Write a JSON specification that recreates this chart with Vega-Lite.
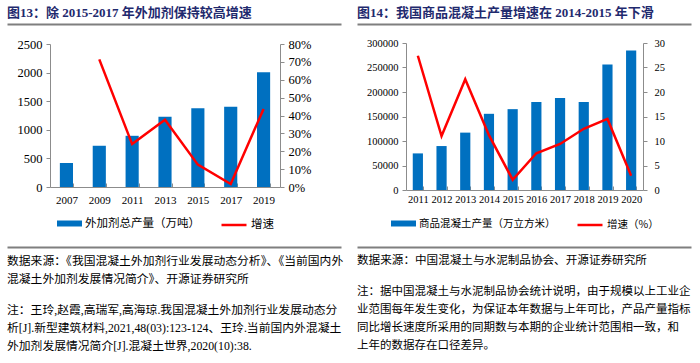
{
  "$schema": "https://vega.github.io/schema/vega-lite/v6.json",
  "background": "white",
  "padding": {"left": 7, "top": 0, "right": 0, "bottom": 0},
  "spacing": -27,
  "config": {
    "view": {"stroke": null},
    "legend": {"layout": {"bottom": {"anchor": "middle", "direction": "horizontal", "margin": 12}}}
  },
  "resolve": {"scale": {"fill": "independent", "stroke": "independent"}, "legend": {"fill": "independent", "stroke": "independent"}},
  "hconcat": [
    {
      "spacing": 12,
      "resolve": {"scale": {"fill": "independent", "stroke": "independent"}, "legend": {"fill": "independent", "stroke": "independent"}},
      "vconcat": [
        {
          "width": 291, "height": 26,
          "data": {"values": [{"t": "图13：除 2015-2017 年外加剂保持较高增速", "p": 0}]},
          "mark": {"type": "text", "align": "left", "baseline": "middle", "font": "Liberation Serif, Noto Sans CJK SC", "fontSize": 13, "fontWeight": "bold", "color": "#1F2A6E"},
          "encoding": {
            "x": {"field": "p", "type": "quantitative", "scale": {"domain": [0, 1], "range": [-43, 291]}, "axis": {"orient": "bottom", "labels": false, "ticks": false, "grid": false, "title": null, "domainColor": "#7F7F7F", "domainWidth": 2, "offset": -2}},
            "text": {"field": "t"}
          }
        },
        {
          "width": 230, "height": 143,
          "data": {"values": [
            {"year": "2007", "prod": 420},
            {"year": "2009", "prod": 721, "growth": 0.714},
            {"year": "2011", "prod": 895, "growth": 0.24},
            {"year": "2013", "prod": 1227, "growth": 0.376},
            {"year": "2015", "prod": 1378, "growth": 0.125},
            {"year": "2017", "prod": 1401, "growth": 0.017},
            {"year": "2019", "prod": 2006, "growth": 0.437}
          ]},
          "encoding": {
            "x": {"field": "year", "type": "ordinal", "scale": {"paddingInner": 0.6, "paddingOuter": 0.3},
              "axis": {"title": null, "labelAngle": 0, "labelFont": "Liberation Serif", "labelFontSize": 11, "labelColor": "#000", "domainColor": "#8C8C8C", "tickColor": "#8C8C8C", "tickBand": "extent", "tickSize": -4, "labelPadding": 11, "labelOverlap": false}}
          },
          "layer": [
            {
              "mark": {"type": "bar", "color": "#0070C0"},
              "encoding": {
                "y": {"field": "prod", "type": "quantitative", "scale": {"domain": [0, 2500]},
                  "axis": {"title": null, "grid": false, "format": "d", "values": [0, 500, 1000, 1500, 2000, 2500], "labelFont": "Liberation Serif", "labelFontSize": 12.5, "labelColor": "#000", "domainColor": "#8C8C8C", "tickColor": "#8C8C8C", "tickSize": 4, "labelPadding": 4, "minExtent": 43}},
                "fill": {"datum": "外加剂总产量（万吨）", "type": "nominal", "scale": {"range": ["#0070C0"]},
                  "legend": {"orient": "bottom", "direction": "horizontal", "title": null, "offset": 2, "padding": 4, "symbolType": "M-1,-0.24H1V0.24H-1Z", "symbolSize": 625, "symbolStrokeWidth": 0, "labelFont": "Noto Sans CJK SC", "labelFontSize": 11.5, "labelColor": "#000", "labelOffset": 3}}
              }
            },
            {
              "mark": {"type": "line", "color": "#FF0000", "strokeWidth": 2.5},
              "encoding": {
                "y": {"field": "growth", "type": "quantitative", "scale": {"domain": [0, 0.8]},
                  "axis": {"orient": "right", "title": null, "grid": false, "format": ".0%", "values": [0, 0.1, 0.2, 0.3, 0.4, 0.5, 0.6, 0.7, 0.8], "labelFont": "Liberation Serif", "labelFontSize": 12.5, "labelColor": "#000", "domainColor": "#8C8C8C", "tickColor": "#8C8C8C", "tickSize": 4, "labelPadding": 4, "minExtent": 35}},
                "stroke": {"datum": "增速", "type": "nominal", "scale": {"range": ["#FF0000"]},
                  "legend": {"orient": "bottom", "direction": "horizontal", "title": null, "offset": 2, "padding": 4, "symbolType": "stroke", "symbolSize": 625, "symbolStrokeWidth": 2.5, "labelFont": "Noto Sans CJK SC", "labelFontSize": 11.5, "labelColor": "#000", "labelOffset": 3}}
              }
            }
          ],
          "resolve": {"scale": {"y": "independent"}}
        },
        {
          "spacing": 13,
          "vconcat": [
            {
              "width": 291, "height": 36,
              "data": {"values": [
                {"i": 1, "p": 0, "t": "数据来源：《我国混凝土外加剂行业发展动态分析》、《当前国内外"},
                {"i": 2, "p": 0, "t": "混凝土外加剂发展情况简介》、开源证券研究所"}
              ]},
              "mark": {"type": "text", "align": "left", "baseline": "middle", "font": "Liberation Serif, Noto Sans CJK SC", "fontSize": 11.8, "color": "#000"},
              "encoding": {
                "x": {"field": "p", "type": "quantitative", "scale": {"domain": [0, 1], "range": [-43, 291]}, "axis": {"orient": "top", "labels": false, "ticks": false, "grid": false, "title": null, "domainColor": "#7F7F7F", "domainWidth": 2, "offset": 5}},
                "y": {"field": "i", "type": "ordinal", "scale": {"padding": 0.5}, "axis": null},
                "text": {"field": "t"}
              }
            },
            {
              "width": 291, "height": 54,
              "data": {"values": [
                {"i": 1, "p": 0, "t": "注：王玲,赵霞,高瑞军,高海琼.我国混凝土外加剂行业发展动态分"},
                {"i": 2, "p": 0, "t": "析[J].新型建筑材料,2021,48(03):123-124、王玲.当前国内外混凝土"},
                {"i": 3, "p": 0, "t": "外加剂发展情况简介[J].混凝土世界,2020(10):38."}
              ]},
              "mark": {"type": "text", "align": "left", "baseline": "middle", "font": "Liberation Serif, Noto Sans CJK SC", "fontSize": 11.8, "color": "#000"},
              "encoding": {
                "x": {"field": "p", "type": "quantitative", "scale": {"domain": [0, 1], "range": [-43, 291]}, "axis": null},
                "y": {"field": "i", "type": "ordinal", "scale": {"padding": 0.5}, "axis": null},
                "text": {"field": "t"}
              }
            }
          ]
        }
      ]
    },
    {
      "spacing": 12,
      "resolve": {"scale": {"fill": "independent", "stroke": "independent"}, "legend": {"fill": "independent", "stroke": "independent"}},
      "vconcat": [
        {
          "width": 285, "height": 26,
          "data": {"values": [{"t": "图14：我国商品混凝土产量增速在 2014-2015 年下滑", "p": 0}]},
          "mark": {"type": "text", "align": "left", "baseline": "middle", "font": "Liberation Serif, Noto Sans CJK SC", "fontSize": 13, "fontWeight": "bold", "color": "#1F2A6E"},
          "encoding": {
            "x": {"field": "p", "type": "quantitative", "scale": {"domain": [0, 1], "range": [-49, 285]}, "axis": {"orient": "bottom", "labels": false, "ticks": false, "grid": false, "title": null, "domainColor": "#7F7F7F", "domainWidth": 2, "offset": -2}},
            "text": {"field": "t"}
          }
        },
        {
          "width": 237, "height": 147,
          "data": {"values": [
            {"year": "2011", "prod": 74700, "growth": 27.4},
            {"year": "2012", "prod": 89700, "growth": 11.0},
            {"year": "2013", "prod": 117100, "growth": 22.6},
            {"year": "2014", "prod": 155500, "growth": 11.2},
            {"year": "2015", "prod": 165000, "growth": 2.1},
            {"year": "2016", "prod": 179500, "growth": 7.5},
            {"year": "2017", "prod": 187700, "growth": 9.4},
            {"year": "2018", "prod": 179500, "growth": 12.5},
            {"year": "2019", "prod": 256200, "growth": 14.5},
            {"year": "2020", "prod": 284900, "growth": 2.9}
          ]},
          "encoding": {
            "x": {"field": "year", "type": "ordinal", "scale": {"paddingInner": 0.57, "paddingOuter": 0.285},
              "axis": {"title": null, "labelAngle": 0, "labelFont": "Liberation Serif", "labelFontSize": 10.5, "labelColor": "#000", "domainColor": "#8C8C8C", "tickColor": "#8C8C8C", "tickBand": "extent", "tickSize": -4, "labelPadding": 8, "labelOverlap": false}}
          },
          "layer": [
            {
              "mark": {"type": "bar", "color": "#0070C0"},
              "encoding": {
                "y": {"field": "prod", "type": "quantitative", "scale": {"domain": [0, 300000]},
                  "axis": {"title": null, "grid": false, "format": "d", "values": [0, 50000, 100000, 150000, 200000, 250000, 300000], "labelFont": "Liberation Serif", "labelFontSize": 10.5, "labelColor": "#000", "domainColor": "#8C8C8C", "tickColor": "#8C8C8C", "tickSize": 4, "labelPadding": 4, "minExtent": 49}},
                "fill": {"datum": "商品混凝土产量（万立方米）", "type": "nominal", "scale": {"range": ["#0070C0"]},
                  "legend": {"orient": "bottom", "direction": "horizontal", "title": null, "offset": 2, "padding": 4, "symbolType": "M-1,-0.24H1V0.24H-1Z", "symbolSize": 625, "symbolStrokeWidth": 0, "labelFont": "Noto Sans CJK SC", "labelFontSize": 10.5, "labelColor": "#000", "labelOffset": 3}}
              }
            },
            {
              "mark": {"type": "line", "color": "#FF0000", "strokeWidth": 2.5},
              "encoding": {
                "y": {"field": "growth", "type": "quantitative", "scale": {"domain": [0, 30]},
                  "axis": {"orient": "right", "title": null, "grid": false, "values": [0, 5, 10, 15, 20, 25, 30], "labelFont": "Liberation Serif", "labelFontSize": 10.5, "labelColor": "#000", "domainColor": "#8C8C8C", "tickColor": "#8C8C8C", "tickSize": 4, "labelPadding": 7}},
                "stroke": {"datum": "增速（%）", "type": "nominal", "scale": {"range": ["#FF0000"]},
                  "legend": {"orient": "bottom", "direction": "horizontal", "title": null, "offset": 2, "padding": 4, "symbolType": "stroke", "symbolSize": 625, "symbolStrokeWidth": 2.5, "labelFont": "Noto Sans CJK SC", "labelFontSize": 10.5, "labelColor": "#000", "labelOffset": 3}}
              }
            }
          ],
          "resolve": {"scale": {"y": "independent"}}
        },
        {
          "spacing": 13,
          "vconcat": [
            {
              "width": 285, "height": 18,
              "data": {"values": [
                {"i": 1, "p": 0, "t": "数据来源：中国混凝土与水泥制品协会、开源证券研究所"}
              ]},
              "mark": {"type": "text", "align": "left", "baseline": "middle", "font": "Liberation Serif, Noto Sans CJK SC", "fontSize": 11.6, "color": "#000"},
              "encoding": {
                "x": {"field": "p", "type": "quantitative", "scale": {"domain": [0, 1], "range": [-49, 285]}, "axis": {"orient": "top", "labels": false, "ticks": false, "grid": false, "title": null, "domainColor": "#7F7F7F", "domainWidth": 2, "offset": 5}},
                "y": {"field": "i", "type": "ordinal", "scale": {"padding": 0.5}, "axis": null},
                "text": {"field": "t"}
              }
            },
            {
              "width": 285, "height": 72,
              "data": {"values": [
                {"i": 1, "p": 0, "t": "注：据中国混凝土与水泥制品协会统计说明，由于规模以上工业企"},
                {"i": 2, "p": 0, "t": "业范围每年发生变化，为保证本年数据与上年可比，产品产量指标"},
                {"i": 3, "p": 0, "t": "同比增长速度所采用的同期数与本期的企业统计范围相一致，和"},
                {"i": 4, "p": 0, "t": "上年的数据存在口径差异。"}
              ]},
              "mark": {"type": "text", "align": "left", "baseline": "middle", "font": "Liberation Serif, Noto Sans CJK SC", "fontSize": 11.5, "color": "#000"},
              "encoding": {
                "x": {"field": "p", "type": "quantitative", "scale": {"domain": [0, 1], "range": [-49, 285]}, "axis": null},
                "y": {"field": "i", "type": "ordinal", "scale": {"padding": 0.5}, "axis": null},
                "text": {"field": "t"}
              }
            }
          ]
        }
      ]
    }
  ]
}
